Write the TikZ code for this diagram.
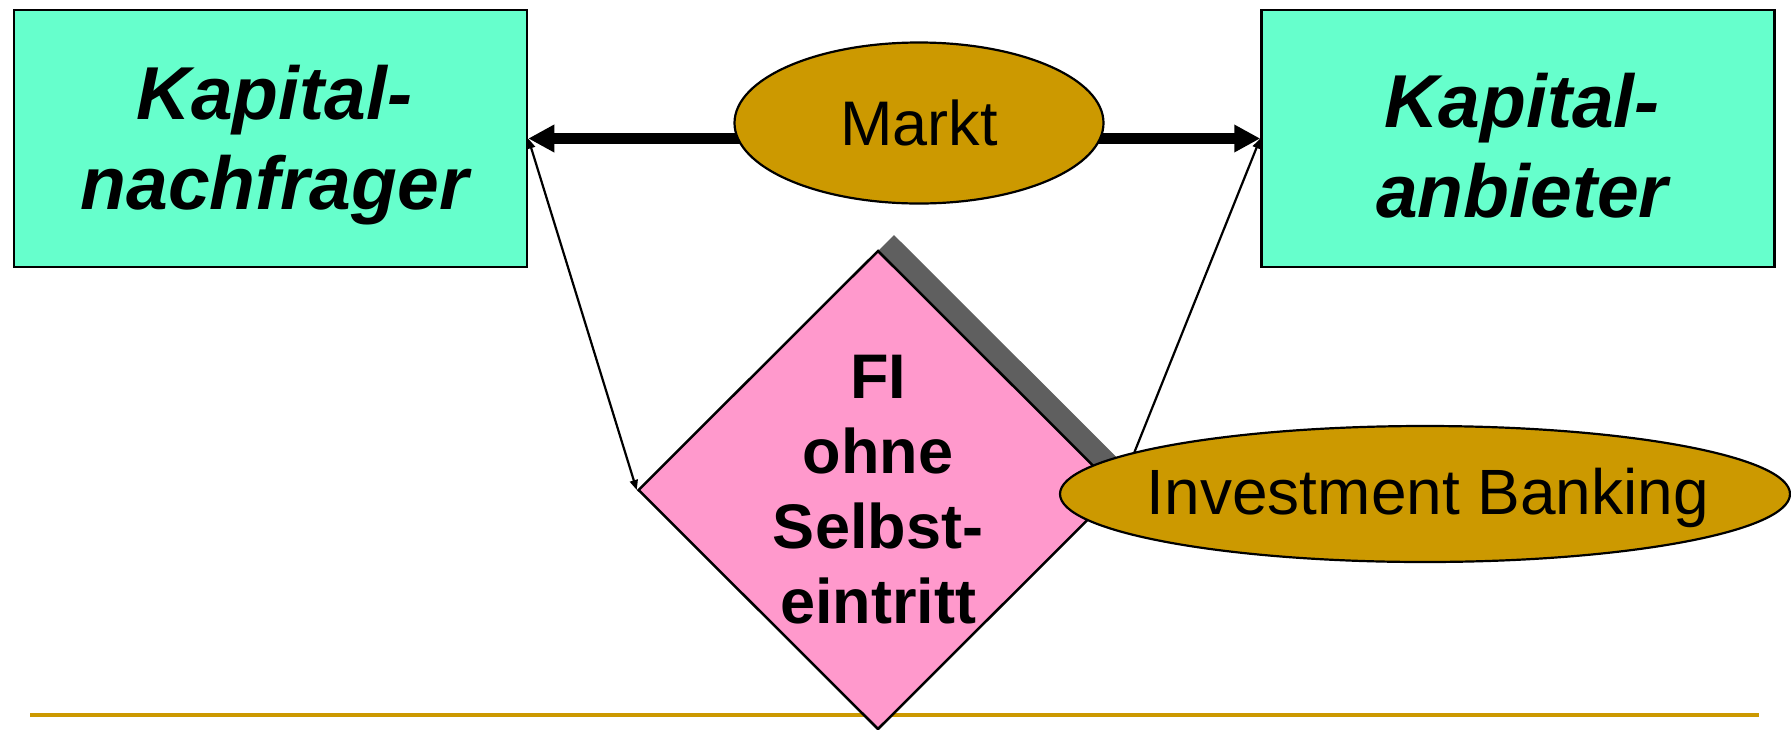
\documentclass[tikz,border=0pt]{standalone}
\usepackage{fontspec}
\setmainfont{Liberation Sans}
\usetikzlibrary{shapes.geometric,arrows.meta,shadows,backgrounds}
\definecolor{boxgreen}{HTML}{66FFCC}
\definecolor{gold}{HTML}{CC9900}
\definecolor{fipink}{HTML}{FF99CC}
\definecolor{shadowgray}{HTML}{5F5F5F}

\begin{document}
\begin{tikzpicture}[x=1pt,y=-1pt,
  party/.style={draw=black, line width=2.5pt, fill=boxgreen,
    minimum width=513pt, minimum height=257pt, inner sep=0pt},
  partytext/.style={font=\fontsize{75}{90}\selectfont\bfseries\itshape, align=center, inner sep=0pt},
  oval/.style={ellipse, draw=black, line width=2.2pt, fill=gold, inner sep=0pt},
  flow/.style={line width=11pt, -{Triangle[length=26pt,width=26pt]}},
  link/.style={line width=2.2pt, {Triangle[length=10pt,width=8pt]}-{Triangle[length=10pt,width=8pt]}},
  institut/.style={diamond, draw=black, line width=2.5pt, fill=fipink,
    minimum width=480pt, minimum height=478pt, inner sep=0pt,
    drop shadow={shadow xshift=16pt, shadow yshift=16pt, fill=shadowgray, opacity=1}},
]
\useasboundingbox (0,0) rectangle (1791,729);

% footer rule
\coordinate (rulestart) at (30,715);
\coordinate (ruleend) at (1759,715);
\draw[gold, line width=4pt] (rulestart) -- (ruleend);

% the two market sides
\node[party] (nachfrager) at (270.5,138.5) {};
\node[partytext] (nachfragertext) at ([xshift=4pt,yshift=-7pt]nachfrager.center) {Kapital-\\nachfrager};
\node[party] (anbieter) at (1518,138.5) {};
\node[partytext] (anbietertext) at ([xshift=4pt,yshift=-7pt]anbieter.center) {Kapital-\\anbieter};

% direct market
\node[oval, minimum width=369pt, minimum height=161pt, font=\fontsize{63}{72}\selectfont] (markt) at (919,123) {Markt};
\begin{pgfonlayer}{background}
  \draw[flow] (markt.center |- nachfrager.east) -- (nachfrager.east);
  \draw[flow] (markt.center |- anbieter.west) -- (anbieter.west);
\end{pgfonlayer}

% intermediary
\node[institut, font=\fontsize{63}{75}\selectfont\bfseries, align=center] (fi) at (878,490) {FI\\ohne\\Selbst-\\eintritt};

\draw[link] (nachfrager.east) -- (fi.west);
\draw[link] (anbieter.west) -- (fi.east);

% investment banking
\node[oval, minimum width=730pt, minimum height=136pt] (ib) at (1425,494) {};
\node[font=\fontsize{64}{74}\selectfont, inner sep=0pt] (ibtext) at ([xshift=3pt,yshift=-4pt]ib.center) {Investment Banking};
\end{tikzpicture}
\end{document}
